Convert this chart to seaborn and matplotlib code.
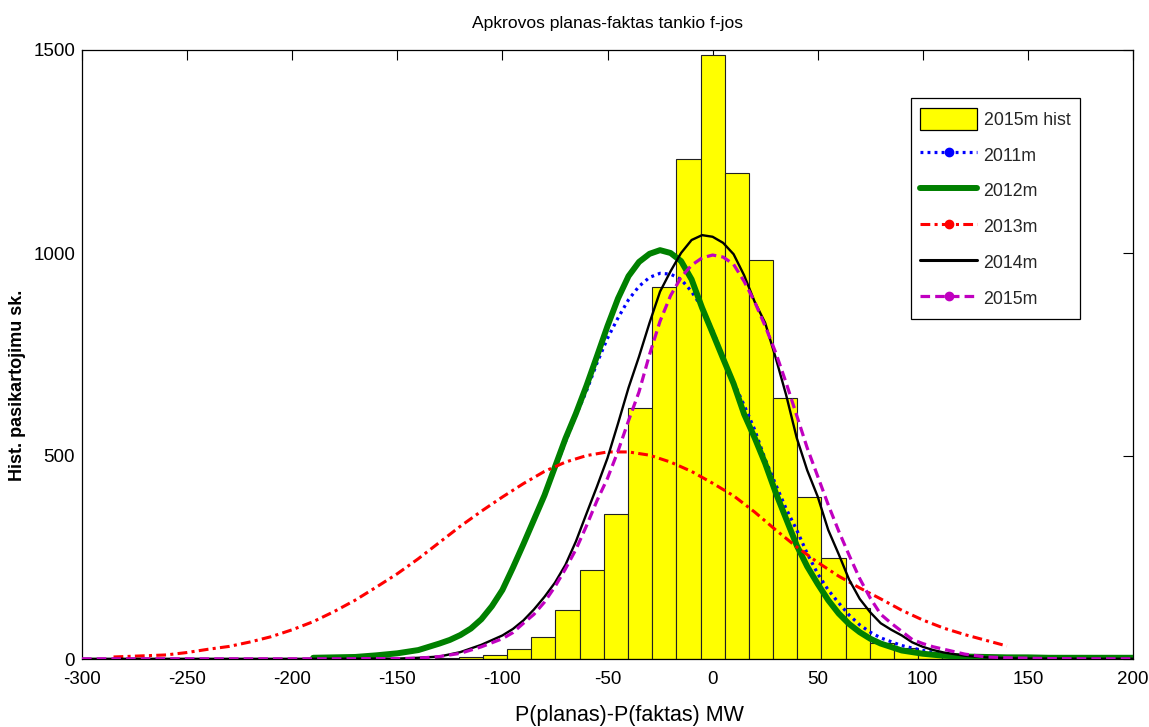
import matplotlib
matplotlib.use('Agg')
import matplotlib.pyplot as plt
import seaborn as sns
import pandas as pd
from matplotlib.lines import Line2D
from matplotlib.patches import Patch

# ---------------- data ----------------
bin_centers = [-126.5, -115, -103.5, -92, -80.5, -69, -57.5, -46, -34.5, -23, -11.5,
               0, 11.5, 23, 34.5, 46, 57.5, 69, 80.5, 92, 103.5, 115, 126.5]
hist_2015 = [2, 6, 11, 25, 53, 120, 219, 357, 618, 917, 1231,
             1487, 1197, 983, 642, 400, 248, 125, 40, 26, 15, 7, 3]
bin_width = 11.5

x_2011 = [-190, -180, -170, -160, -150, -140, -130, -125, -120, -115, -110, -105, -100,
          -95, -90, -85, -80, -75, -70, -65, -60, -55, -50, -45, -40, -35, -30, -25, -20,
          -15, -10, -5, 0, 5, 10, 15, 20, 25, 30, 35, 40, 45, 50, 55, 60, 65, 70, 75, 80,
          90, 100, 110, 120, 130, 140, 150, 160, 170, 180, 190, 200]
y_2011 = [2, 3, 4, 8, 14, 22, 38, 47, 60, 76, 98, 130, 170,
          224, 282, 342, 402, 468, 535, 600, 660, 729, 790, 840, 885, 918, 940, 950, 948,
          935, 905, 865, 810, 745, 682, 625, 565, 492, 430, 370, 318, 260, 210, 170, 138,
          108, 84, 66, 52, 33, 21, 12, 7, 5, 3, 2, 2, 1, 1, 1, 1]

x_2012 = x_2011
y_2012 = [3, 4, 5, 9, 14, 22, 38, 47, 59, 75, 98, 130, 170,
          225, 283, 343, 403, 473, 543, 605, 673, 746, 820, 888, 943, 978, 998, 1007, 1000,
          980, 935, 865, 803, 740, 678, 603, 545, 482, 410, 345, 280, 228, 185, 145, 112,
          86, 66, 50, 38, 21, 13, 8, 6, 5, 4, 4, 3, 3, 3, 3, 3]

x_2013 = [-285, -280, -270, -260, -250, -240, -230, -220, -210, -200, -190, -180, -170,
          -160, -150, -140, -130, -120, -110, -100, -90, -80, -70, -60, -50, -40, -30,
          -20, -10, 0, 10, 20, 30, 40, 50, 60, 70, 80, 90, 100, 110, 120, 130, 140]
y_2013 = [5, 6, 8, 10, 16, 24, 31, 42, 55, 72, 92, 117, 145,
          177, 210, 247, 287, 327, 364, 399, 432, 462, 485, 501, 510, 510, 502,
          485, 462, 433, 402, 362, 318, 276, 238, 204, 175, 148, 120, 96, 76, 60, 46, 32]

x_2014 = [-300, -280, -260, -240, -220, -200, -180, -160, -150, -140, -130, -120, -110,
          -100, -95, -90, -85, -80, -75, -70, -65, -60, -55, -50, -45, -40, -35, -30, -25,
          -20, -15, -10, -5, 0, 5, 10, 15, 20, 25, 30, 35, 40, 45, 50, 55, 60, 65, 70, 75,
          80, 85, 90, 95, 100, 105, 110, 120, 130, 140, 150, 160, 180, 200]
y_2014 = [0.5, 0.5, 0.5, 0.5, 0.5, 0.5, 0.5, 1, 1, 3, 6, 17, 35,
          58, 74, 95, 122, 153, 188, 232, 290, 358, 425, 495, 580, 668, 745, 828, 905,
          955, 1000, 1032, 1044, 1040, 1025, 997, 945, 880, 828, 742, 650, 545, 465, 400, 318,
          258, 195, 148, 115, 88, 72, 58, 41, 30, 22, 16, 8, 4, 2, 1, 1, 0.5, 0.5]

x_2015 = x_2014
y_2015 = [0.5, 0.5, 0.5, 0.5, 0.5, 0.5, 0.5, 1, 1, 2, 6, 14, 30,
          50, 65, 88, 110, 140, 178, 222, 270, 328, 390, 445, 512, 587, 658, 750, 832,
          895, 940, 970, 988, 995, 990, 972, 930, 880, 820, 755, 680, 600, 520, 450, 380,
          315, 255, 198, 150, 110, 88, 68, 48, 38, 30, 24, 12, 5, 3, 2, 1, 0.5, 0.5]

title_text = "Apkrovos planas-faktas tankio f-jos"
xlabel_text = "P(planas)-P(faktas) MW"
ylabel_text = "Hist. pasikartojimu sk."
legend_labels = ["2015m hist", "2011m", "2012m", "2013m", "2014m", "2015m"]
x_ticks = [-300, -250, -200, -150, -100, -50, 0, 50, 100, 150, 200]
y_ticks = [0, 500, 1000, 1500]

# ---------------- style ----------------
sns.set_theme(style="white")
plt.rcParams['font.family'] = ['Liberation Sans', 'DejaVu Sans']

fig = plt.figure(figsize=(11.49, 7.27), dpi=100)
ax = fig.add_axes([82 / 1149, 1 - 659 / 727, (1133 - 82) / 1149, (659 - 50) / 727])

edges_lo = bin_centers[0] - bin_width / 2
edges_hi = bin_centers[-1] + bin_width / 2
sns.histplot(x=bin_centers, weights=hist_2015, binwidth=bin_width,
             binrange=(edges_lo, edges_hi), color='#ffff00', alpha=1.0,
             edgecolor='#222222', linewidth=0.8, ax=ax, zorder=1)

styles = [
    dict(x=x_2011, y=y_2011, color='#0000ff', lw=2.3, dashes=(0.9, 1.3), label='2011m'),
    dict(x=x_2012, y=y_2012, color='#008000', lw=4.3, dashes=None, label='2012m'),
    dict(x=x_2013, y=y_2013, color='#ff0000', lw=2.2, dashes=(3.2, 1.4, 1.0, 1.4), label='2013m'),
    dict(x=x_2014, y=y_2014, color='#000000', lw=1.7, dashes=None, label='2014m'),
    dict(x=x_2015, y=y_2015, color='#c000c0', lw=2.3, dashes=(3.0, 1.6), label='2015m'),
]
for i, s in enumerate(styles):
    df = pd.DataFrame({'x': s['x'], 'y': s['y']})
    sns.lineplot(data=df, x='x', y='y', ax=ax, color=s['color'], linewidth=s['lw'],
                 zorder=3 + i, legend=False)
    ln = ax.lines[-1]
    ln.set_solid_joinstyle('round')
    ln.set_dash_joinstyle('round')
    if s['dashes'] is not None:
        ln.set_dashes(s['dashes'])

ax.set_xlim(-300, 200)
ax.set_ylim(0, 1500)
ax.set_xticks(x_ticks)
ax.set_yticks(y_ticks)
ax.set_xticklabels([str(v) for v in x_ticks])
ax.set_yticklabels([str(v) for v in y_ticks])
ax.tick_params(direction='in', length=7, width=0.8, top=True, right=True,
               labelsize=13.5, colors='black')
ax.tick_params(axis='x', pad=9)
ax.tick_params(axis='y', pad=5)
for sp in ax.spines.values():
    sp.set_color('black')
    sp.set_linewidth(0.9)
    sp.set_visible(True)

ax.set_title(title_text, fontsize=12.6, pad=16, color='black')
ax.set_xlabel(xlabel_text, fontsize=15.5, labelpad=14, color='black')
ax.xaxis.set_label_coords(0.521, -0.075)
ax.set_ylabel(ylabel_text, fontsize=13, fontweight='bold', color='black')
ax.yaxis.set_label_coords(-0.053, 0.45)

handles = [
    Patch(facecolor='#ffff00', edgecolor='black', linewidth=0.9),
    Line2D([], [], color='#0000ff', lw=2.3, dashes=(0.9, 1.3), marker='o', markersize=6),
    Line2D([], [], color='#008000', lw=4.3),
    Line2D([], [], color='#ff0000', lw=2.2, dashes=(3.2, 1.4, 1.0, 1.4), marker='o', markersize=6),
    Line2D([], [], color='#000000', lw=2.2),
    Line2D([], [], color='#c000c0', lw=2.3, dashes=(3.0, 1.6), marker='o', markersize=6),
]
leg = ax.legend(handles, legend_labels, loc='upper right', bbox_to_anchor=(0.9496, 0.921),
                fontsize=12.8, frameon=True, fancybox=False, edgecolor='black',
                framealpha=1, handlelength=3.2, handleheight=1.5, labelspacing=0.8,
                borderpad=0.55, handletextpad=0.35, borderaxespad=0)
leg.get_frame().set_linewidth(0.9)

fig.savefig('out.png', dpi=100, facecolor='white')
